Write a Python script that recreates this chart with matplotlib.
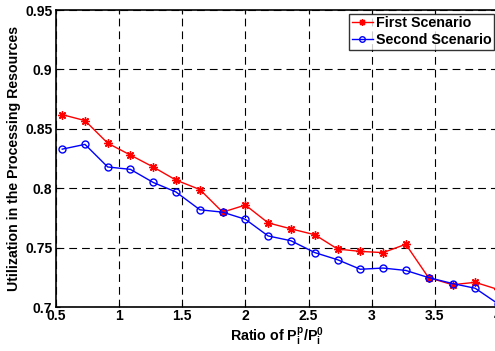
import matplotlib
matplotlib.use("Agg")
import matplotlib.pyplot as plt

ratio = [0.55, 0.73, 0.91, 1.09, 1.27, 1.45, 1.64, 1.82, 2.0, 2.18,
         2.36, 2.55, 2.73, 2.91, 3.09, 3.27, 3.45, 3.64, 3.82, 4.0]
first = [0.862, 0.857, 0.838, 0.828, 0.818, 0.807, 0.799, 0.780, 0.786, 0.771,
         0.766, 0.761, 0.749, 0.747, 0.746, 0.753, 0.725, 0.719, 0.721, 0.715]
second = [0.833, 0.837, 0.818, 0.816, 0.805, 0.797, 0.782, 0.780, 0.774, 0.760,
          0.756, 0.746, 0.740, 0.732, 0.733, 0.731, 0.725, 0.720, 0.716, 0.703]
xticks = [0.5, 1, 1.5, 2, 2.5, 3, 3.5, 4]
yticks = [0.7, 0.75, 0.8, 0.85, 0.9, 0.95]

plt.rcParams['font.family'] = ['Liberation Sans', 'DejaVu Sans']
plt.rcParams['mathtext.fontset'] = 'custom'
plt.rcParams['mathtext.rm'] = 'Liberation Sans:bold'
plt.rcParams['mathtext.it'] = 'Liberation Sans:bold'
plt.rcParams['mathtext.bf'] = 'Liberation Sans:bold'

fig = plt.figure(figsize=(4.95, 3.51), dpi=100)
ax = fig.add_axes([0.113, 0.1245, 0.893, 0.847])

ax.plot(ratio, first, color='red', marker=(8, 2, 0), markersize=6, markeredgewidth=1,
        linewidth=1, label='First Scenario')
ax.plot(ratio, second, color='blue', marker='o', markersize=5, markerfacecolor='none',
        markeredgewidth=1, linewidth=1, label='Second Scenario')

ax.set_xlim(0.5, 4)
ax.set_ylim(0.7, 0.95)
ax.set_xticks(xticks)
ax.set_xticklabels([f"{t:g}" for t in xticks])
ax.set_yticks(yticks)
ax.set_yticklabels([f"{t:g}" for t in yticks])
ax.grid(True, color='black', linestyle=(0, (7, 4.5)), linewidth=0.8)
ax.tick_params(direction='in', labelsize=10, length=3, width=0.8, top=True, right=True)
ax.tick_params(axis='x', pad=1.5)
ax.tick_params(axis='y', pad=2.5)
for lab in ax.get_xticklabels() + ax.get_yticklabels():
    lab.set_fontweight('bold')
for s in ax.spines.values():
    s.set_linewidth(1.2)
    s.set_color('black')

ax.set_xlabel(r'Ratio of P$_\mathregular{i}^\mathregular{p}$/P$_\mathregular{i}^\mathregular{0}$',
              fontsize=10.3, fontweight='bold', labelpad=2)
ax.set_ylabel('Utilization in the Processing Resources', fontsize=10.2, fontweight='bold',
              labelpad=3)

leg = ax.legend(loc='upper right', fontsize=10.3, frameon=True, fancybox=False,
                edgecolor='black', borderaxespad=0.25, handlelength=1.5,
                borderpad=0.2, labelspacing=0.2, handletextpad=0.2, markerscale=0.8)
leg.get_frame().set_linewidth(1.0)
for t in leg.get_texts():
    t.set_fontweight('bold')

fig.savefig('out.png', dpi=100)
